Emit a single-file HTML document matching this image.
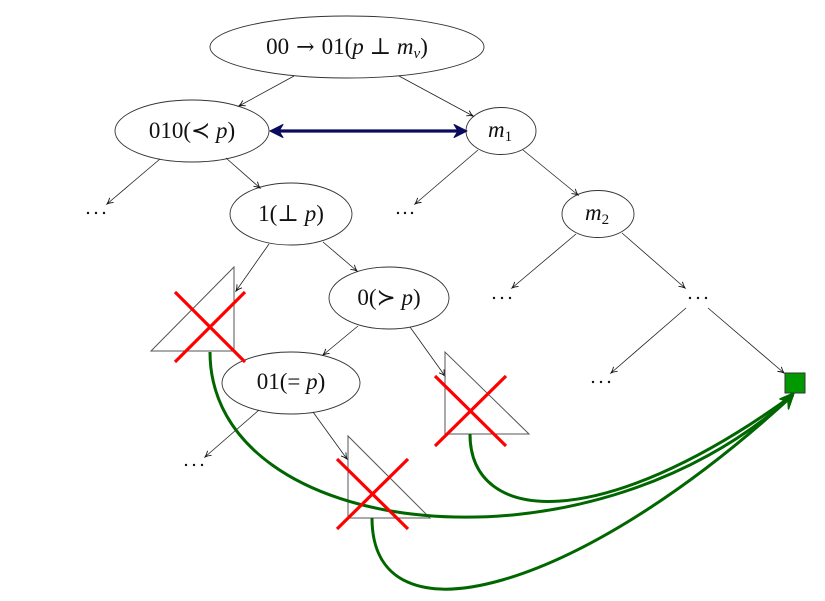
<!DOCTYPE html>
<html>
<head>
<meta charset="utf-8">
<style>
  html,body{margin:0;padding:0;background:#fff;}
  svg{display:block;}
  text{font-family:"Liberation Serif","DejaVu Serif",serif;font-size:23px;fill:#111;}
  .i{font-style:italic;}
  .s{font-family:"DejaVu Serif",serif;font-size:22px;}
</style>
</head>
<body>
<svg width="825" height="601" viewBox="0 0 825 601" xmlns="http://www.w3.org/2000/svg">
  <defs>
    <marker id="ah" markerUnits="userSpaceOnUse" markerWidth="10" markerHeight="10" refX="7" refY="4" orient="auto">
      <path d="M1,1 Q4,3.2 7,4 Q4,4.8 1,7" fill="none" stroke="#111" stroke-width="0.9"/>
    </marker>
  </defs>

  <!-- Ellipses -->
  <g fill="#fff" stroke="#333" stroke-width="0.9">
    <ellipse cx="347" cy="47" rx="137" ry="31"/>
    <ellipse cx="192" cy="131" rx="77" ry="31"/>
    <ellipse cx="501" cy="131" rx="35" ry="23.5"/>
    <ellipse cx="291" cy="214" rx="61" ry="31"/>
    <ellipse cx="598" cy="214" rx="36" ry="23.5"/>
    <ellipse cx="389" cy="298" rx="60" ry="31"/>
    <ellipse cx="291" cy="383" rx="69" ry="31"/>
  </g>

  <!-- Thin arrows -->
  <g stroke="#222" stroke-width="0.8" fill="none" marker-end="url(#ah)">
    <line x1="294" y1="76" x2="239" y2="106"/>
    <line x1="399" y1="76" x2="473" y2="116"/>
    <line x1="160" y1="159" x2="107" y2="204"/>
    <line x1="226" y1="158" x2="260" y2="188"/>
    <line x1="478" y1="150" x2="415" y2="204"/>
    <line x1="523" y1="150" x2="578" y2="195"/>
    <line x1="269" y1="244" x2="236" y2="291"/>
    <line x1="323" y1="242" x2="357" y2="271"/>
    <line x1="576" y1="234" x2="512" y2="288"/>
    <line x1="622" y1="233" x2="685" y2="288"/>
    <line x1="686" y1="308" x2="611" y2="373"/>
    <line x1="708" y1="308" x2="784" y2="373"/>
    <line x1="358" y1="326" x2="323" y2="355"/>
    <line x1="410" y1="327" x2="445" y2="376"/>
    <line x1="259" y1="410" x2="205" y2="457"/>
    <line x1="313" y1="412" x2="347" y2="459"/>
  </g>

  <!-- Blue double arrow -->
  <line x1="276" y1="131" x2="461" y2="131" stroke="#0a0a5e" stroke-width="3.2"/>
  <path d="M270,131 L283,124.5 L279,131 L283,137.5 Z" fill="#0a0a5e" stroke="#0a0a5e" stroke-width="1" stroke-linejoin="round"/>
  <path d="M467,131 L454,124.5 L458,131 L454,137.5 Z" fill="#0a0a5e" stroke="#0a0a5e" stroke-width="1" stroke-linejoin="round"/>

  <!-- Triangles -->
  <g fill="none" stroke="#555" stroke-width="1">
    <polygon points="151,351 234,267 234,351"/>
    <polygon points="445,352 445,434 529,434"/>
    <polygon points="348,436 348,518 430,518"/>
  </g>

  <!-- Green curves -->
  <g fill="none" stroke="#006600" stroke-width="3">
    <path d="M210,352 C210,540 585,585 793,395"/>
    <path d="M470,434 C470,525 600,535 793,395"/>
    <path d="M372,518 C372,650 580,592 793,395"/>
  </g>

  <!-- Red X marks -->
  <g stroke="#ff0000" stroke-width="3.2" stroke-linecap="butt">
    <line x1="175" y1="292" x2="245" y2="362"/>
    <line x1="175" y1="362" x2="245" y2="292"/>
    <line x1="435" y1="376" x2="506" y2="446"/>
    <line x1="435" y1="446" x2="506" y2="376"/>
    <line x1="337" y1="459" x2="408" y2="529"/>
    <line x1="337" y1="529" x2="408" y2="459"/>
  </g>

  <!-- Target square -->
  <rect x="785" y="373" width="20" height="20" fill="#009900" stroke="#333" stroke-width="1"/>

  <!-- Green arrowhead -->
  <path d="M794,393 L788.5,409 L788,401 L780,399 Z" fill="#006600" stroke="#006600" stroke-width="1.5" stroke-linejoin="round"/>

  <!-- Dots -->
  <g fill="#111">
    <circle cx="88" cy="213" r="1.2"/><circle cx="96" cy="213" r="1.2"/><circle cx="104" cy="213" r="1.2"/>
    <circle cx="398" cy="213" r="1.2"/><circle cx="405" cy="213" r="1.2"/><circle cx="412" cy="213" r="1.2"/>
    <circle cx="494" cy="298" r="1.2"/><circle cx="502" cy="298" r="1.2"/><circle cx="510" cy="298" r="1.2"/>
    <circle cx="690" cy="298" r="1.2"/><circle cx="698" cy="298" r="1.2"/><circle cx="706" cy="298" r="1.2"/>
    <circle cx="593" cy="382" r="1.2"/><circle cx="601" cy="382" r="1.2"/><circle cx="609" cy="382" r="1.2"/>
    <circle cx="186" cy="465" r="1.2"/><circle cx="194" cy="465" r="1.2"/><circle cx="202" cy="465" r="1.2"/>
  </g>

  <!-- Labels -->
  <text x="347" y="54" text-anchor="middle">00<tspan class="s" dx="7">→</tspan><tspan dx="7">01(</tspan><tspan class="i">p</tspan> ⊥ <tspan class="i">m</tspan><tspan class="i" font-size="15" dy="4">v</tspan><tspan dy="-4">)</tspan></text>
  <text x="192" y="138" text-anchor="middle">010(≺ <tspan class="i">p</tspan>)</text>
  <text x="500" y="137" text-anchor="middle"><tspan class="i">m</tspan><tspan font-size="15" dy="4">1</tspan></text>
  <text x="291" y="221" text-anchor="middle">1(⊥ <tspan class="i">p</tspan>)</text>
  <text x="597" y="220" text-anchor="middle"><tspan class="i">m</tspan><tspan font-size="15" dy="4">2</tspan></text>
  <text x="389" y="305" text-anchor="middle">0(≻ <tspan class="i">p</tspan>)</text>
  <text x="291" y="389" text-anchor="middle">01(= <tspan class="i">p</tspan>)</text>
</svg>
</body>
</html>
